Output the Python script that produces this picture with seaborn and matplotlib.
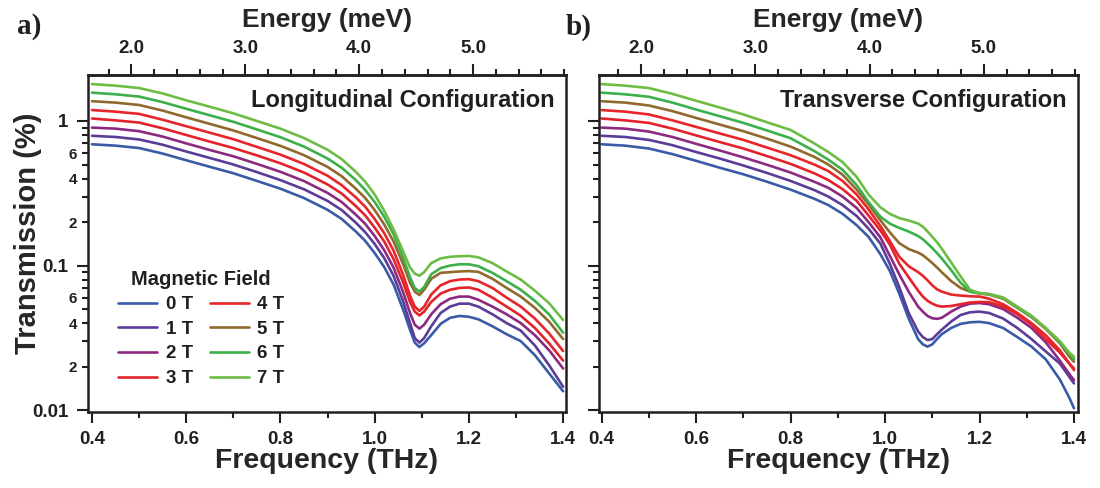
import numpy as np
import pandas as pd
import matplotlib
matplotlib.use("Agg")
import matplotlib.pyplot as plt
import seaborn as sns
from matplotlib.ticker import FixedLocator, FuncFormatter, NullFormatter

# ---------------- data ----------------
fields = ["0 T", "1 T", "2 T", "3 T", "4 T", "5 T", "6 T", "7 T"]
colors = ["#3a5ba8", "#5b3c98", "#8c2a82", "#e3222b", "#e8262a", "#91692c", "#3cb04a", "#6dbd45"]

# Longitudinal configuration (panel a)
freq_a = [0.40, 0.45, 0.50, 0.55, 0.60, 0.65, 0.70, 0.75, 0.80, 0.85, 0.90,
          0.93, 0.96, 0.98, 1.00,
          1.02, 1.04, 1.06, 1.075, 1.085, 1.095, 1.105, 1.12, 1.14, 1.16, 1.18, 1.20, 1.22,
          1.25, 1.28, 1.31, 1.34, 1.37, 1.40]
long_0T = [0.69, 0.675, 0.65, 0.595, 0.535, 0.482, 0.435, 0.385, 0.34, 0.293, 0.243,
           0.21, 0.172, 0.148, 0.122,
           0.098, 0.074, 0.050, 0.036, 0.0293, 0.0273, 0.029, 0.033, 0.0395, 0.0435, 0.0448, 0.0442, 0.0425,
           0.038, 0.0335, 0.030, 0.024, 0.018, 0.0135]
long_1T = [0.79, 0.775, 0.745, 0.685, 0.615, 0.555, 0.50, 0.443, 0.39, 0.337, 0.28,
           0.242, 0.198, 0.17, 0.141,
           0.113, 0.085, 0.057, 0.040, 0.0315, 0.0293, 0.0315, 0.038, 0.047, 0.052, 0.0545, 0.0545, 0.052,
           0.046, 0.040, 0.0355, 0.028, 0.0205, 0.0145]
long_2T = [0.90, 0.885, 0.85, 0.78, 0.70, 0.63, 0.57, 0.505, 0.445, 0.384, 0.318,
           0.275, 0.225, 0.194, 0.16,
           0.128, 0.097, 0.066, 0.047, 0.039, 0.0366, 0.039, 0.046, 0.054, 0.059, 0.061, 0.061, 0.058,
           0.052, 0.046, 0.040, 0.033, 0.026, 0.0194]
long_3T = [1.04, 1.01, 0.975, 0.89, 0.80, 0.72, 0.65, 0.578, 0.51, 0.44, 0.364,
           0.315, 0.258, 0.222, 0.183,
           0.147, 0.111, 0.077, 0.056, 0.048, 0.0452, 0.048, 0.056, 0.064, 0.068, 0.070, 0.0705, 0.068,
           0.060, 0.052, 0.045, 0.037, 0.029, 0.022]
long_4T = [1.19, 1.16, 1.12, 1.02, 0.92, 0.83, 0.748, 0.662, 0.585, 0.504, 0.418,
           0.36, 0.296, 0.255, 0.21,
           0.168, 0.127, 0.087, 0.062, 0.052, 0.0485, 0.052, 0.063, 0.073, 0.078, 0.080, 0.0805, 0.078,
           0.070, 0.060, 0.052, 0.043, 0.034, 0.0256]
long_5T = [1.37, 1.34, 1.29, 1.18, 1.06, 0.955, 0.86, 0.762, 0.673, 0.58, 0.481,
           0.415, 0.34, 0.293, 0.242,
           0.193, 0.147, 0.103, 0.076, 0.066, 0.0625, 0.068, 0.081, 0.089, 0.090, 0.091, 0.0915, 0.0905,
           0.081, 0.070, 0.061, 0.051, 0.041, 0.031]
long_6T = [1.57, 1.53, 1.475, 1.35, 1.215, 1.095, 0.987, 0.874, 0.772, 0.665, 0.55,
           0.475, 0.39, 0.333, 0.275,
           0.218, 0.165, 0.114, 0.083, 0.070, 0.066, 0.071, 0.087, 0.096, 0.100, 0.102, 0.102, 0.099,
           0.089, 0.078, 0.068, 0.057, 0.046, 0.0343]
long_7T = [1.80, 1.755, 1.69, 1.55, 1.39, 1.255, 1.13, 1.0, 0.885, 0.762, 0.632,
           0.545, 0.445, 0.38, 0.31,
           0.24, 0.178, 0.126, 0.097, 0.088, 0.085, 0.090, 0.104, 0.112, 0.115, 0.116, 0.1165, 0.114,
           0.104, 0.091, 0.080, 0.067, 0.055, 0.042]

# Transverse configuration (panel b)
freq_b = [0.40, 0.45, 0.50, 0.55, 0.60, 0.65, 0.70, 0.75, 0.80, 0.85,
          0.88, 0.91, 0.94, 0.965, 0.99,
          1.01, 1.03, 1.05, 1.07, 1.08, 1.09, 1.10, 1.11, 1.12, 1.14, 1.16, 1.18, 1.20, 1.22,
          1.25, 1.28, 1.31, 1.34, 1.37, 1.39, 1.40]
trans_0T = [0.69, 0.675, 0.645, 0.59, 0.53, 0.475, 0.428, 0.38, 0.335, 0.29,
            0.262, 0.228, 0.19, 0.158, 0.12,
            0.092, 0.064, 0.043, 0.031, 0.0285, 0.0275, 0.0285, 0.031, 0.0335, 0.037, 0.0395, 0.0405, 0.0408, 0.040,
            0.037, 0.032, 0.0275, 0.0225, 0.0163, 0.0122, 0.0103]
trans_1T = [0.79, 0.775, 0.74, 0.68, 0.61, 0.55, 0.492, 0.437, 0.385, 0.333,
            0.30, 0.262, 0.22, 0.18, 0.142,
            0.103, 0.071, 0.047, 0.035, 0.032, 0.0305, 0.031, 0.0335, 0.036, 0.041, 0.0455, 0.0475, 0.048, 0.047,
            0.043, 0.037, 0.031, 0.0255, 0.021, 0.017, 0.0153]
trans_2T = [0.90, 0.885, 0.845, 0.775, 0.695, 0.625, 0.56, 0.498, 0.44, 0.38,
            0.345, 0.30, 0.25, 0.20, 0.157,
            0.117, 0.087, 0.066, 0.052, 0.048, 0.0448, 0.0432, 0.0428, 0.0435, 0.048, 0.052, 0.0545, 0.055, 0.054,
            0.050, 0.0435, 0.037, 0.0295, 0.022, 0.0178, 0.0161]
trans_3T = [1.04, 1.01, 0.97, 0.885, 0.795, 0.715, 0.645, 0.572, 0.505, 0.435,
            0.39, 0.338, 0.28, 0.222, 0.175,
            0.14, 0.103, 0.083, 0.067, 0.061, 0.057, 0.0545, 0.0528, 0.052, 0.0525, 0.054, 0.0555, 0.056, 0.0558,
            0.052, 0.046, 0.039, 0.031, 0.025, 0.021, 0.0194]
trans_4T = [1.19, 1.16, 1.11, 1.01, 0.91, 0.82, 0.74, 0.655, 0.58, 0.50,
            0.45, 0.385, 0.31, 0.245, 0.188,
            0.148, 0.115, 0.099, 0.090, 0.085, 0.079, 0.073, 0.0685, 0.066, 0.063, 0.062, 0.0613, 0.061, 0.059,
            0.054, 0.047, 0.040, 0.033, 0.026, 0.021, 0.0189]
trans_5T = [1.37, 1.34, 1.28, 1.17, 1.05, 0.945, 0.85, 0.755, 0.665, 0.565,
            0.50, 0.425, 0.335, 0.265, 0.206,
            0.17, 0.143, 0.130, 0.123, 0.118, 0.111, 0.104, 0.097, 0.09, 0.078, 0.070, 0.066, 0.064, 0.063,
            0.059, 0.051, 0.044, 0.0365, 0.029, 0.0235, 0.0216]
trans_6T = [1.57, 1.53, 1.47, 1.34, 1.20, 1.08, 0.97, 0.86, 0.76, 0.62,
            0.54, 0.46, 0.36, 0.275, 0.218,
            0.195, 0.182, 0.172, 0.16, 0.152, 0.142, 0.132, 0.122, 0.112, 0.093, 0.076, 0.066, 0.0645, 0.0635,
            0.060, 0.0515, 0.0445, 0.037, 0.0295, 0.0245, 0.0225]
trans_7T = [1.80, 1.755, 1.69, 1.54, 1.38, 1.24, 1.11, 0.98, 0.867, 0.70,
            0.61, 0.52, 0.41, 0.31, 0.253,
            0.228, 0.213, 0.205, 0.195, 0.186, 0.172, 0.158, 0.145, 0.131, 0.105, 0.084, 0.068, 0.0645, 0.0635,
            0.060, 0.052, 0.045, 0.037, 0.030, 0.025, 0.0234]

long_series = [long_0T, long_1T, long_2T, long_3T, long_4T, long_5T, long_6T, long_7T]
trans_series = [trans_0T, trans_1T, trans_2T, trans_3T, trans_4T, trans_5T, trans_6T, trans_7T]

y_major = [0.01, 0.1, 1.0]
y_minor = [0.02, 0.03, 0.04, 0.05, 0.06, 0.07, 0.08, 0.09,
           0.2, 0.3, 0.4, 0.5, 0.6, 0.7, 0.8, 0.9]
x_major = [0.4, 0.6, 0.8, 1.0, 1.2, 1.4]
x_minor = [0.5, 0.7, 0.9, 1.1, 1.3]
e_major = [2.0, 3.0, 4.0, 5.0]
e_minor = [1.8, 2.2, 2.4, 2.6, 2.8, 3.2, 3.4, 3.6, 3.8, 4.2, 4.4, 4.6, 4.8, 5.2, 5.4, 5.6, 5.8]


def to_frame(freq, series):
    rows = []
    for name, vals in zip(fields, series):
        for f, v in zip(freq, vals):
            rows.append((name, f, v))
    return pd.DataFrame(rows, columns=["field", "freq", "T"])


df_a = to_frame(freq_a, long_series)
df_b = to_frame(freq_b, trans_series)

# ---------------- style ----------------
sns.set_style("ticks")
plt.rcParams["font.family"] = ["Liberation Sans", "DejaVu Sans"]
plt.rcParams["font.weight"] = "bold"
plt.rcParams["axes.labelweight"] = "bold"
plt.rcParams["axes.linewidth"] = 1.8
plt.rcParams["axes.edgecolor"] = "#231f20"
plt.rcParams["text.color"] = "#231f20"
plt.rcParams["xtick.color"] = "#231f20"
plt.rcParams["ytick.color"] = "#231f20"

fig = plt.figure(figsize=(11, 4.88), dpi=100)
ax_a = fig.add_axes([0.080, 0.1557, 0.4345, 0.6906])
ax_b = fig.add_axes([0.5445, 0.1557, 0.4355, 0.6906])

THZ_TO_MEV = 4.13567


def minor_fmt(v, pos):
    d = int(round(v / 10 ** np.floor(np.log10(v) + 1e-9)))
    return str(d) if d in (2, 4, 6) else ""


def major_fmt(v, pos):
    return {0.01: "0.01", 0.1: "0.1", 1.0: "1"}.get(round(v, 4), "")


for ax, df, xlim, title, show_y in [
    (ax_a, df_a, (0.3915, 1.406), "Longitudinal Configuration", True),
    (ax_b, df_b, (0.3943, 1.4085), "Transverse Configuration", False),
]:
    sns.lineplot(data=df, x="freq", y="T", hue="field", palette=colors, ax=ax,
                 linewidth=1.9, sort=False, estimator=None, legend=show_y)
    for ln in ax.get_lines():
        ln.set_solid_joinstyle("round")
    ax.set_yscale("log")
    ax.set_xlim(*xlim)
    ax.set_ylim(0.0097, 2.08)
    for s in ax.spines.values():
        s.set_visible(True)
        s.set_linewidth(1.8)

    ax.xaxis.set_major_locator(FixedLocator(x_major))
    ax.xaxis.set_minor_locator(FixedLocator(x_minor))
    ax.xaxis.set_major_formatter(FuncFormatter(lambda v, p: f"{v:.1f}"))
    ax.yaxis.set_major_locator(FixedLocator(y_major))
    ax.yaxis.set_minor_locator(FixedLocator(y_minor))
    ax.tick_params(axis="both", which="major", direction="out", length=8, width=1.5,
                   labelsize=13.5, top=False, right=False, pad=6)
    ax.tick_params(axis="both", which="minor", direction="out", length=4.5, width=1.5,
                   labelsize=11, top=False, right=False)
    if show_y:
        ax.yaxis.set_major_formatter(FuncFormatter(major_fmt))
        ax.yaxis.set_minor_formatter(FuncFormatter(minor_fmt))
        ax.set_ylabel("Transmission (%)", fontsize=21)
        ax.yaxis.set_label_coords(-0.097, 0.53)
    else:
        ax.yaxis.set_major_formatter(NullFormatter())
        ax.yaxis.set_minor_formatter(NullFormatter())
        ax.set_ylabel("")
    ax.set_xlabel("Frequency (THz)", fontsize=20.5, labelpad=0)

    sec = ax.secondary_xaxis("top", functions=(lambda f: f * THZ_TO_MEV, lambda e: e / THZ_TO_MEV))
    sec.xaxis.set_major_locator(FixedLocator(e_major))
    sec.xaxis.set_minor_locator(FixedLocator(e_minor))
    sec.xaxis.set_major_formatter(FuncFormatter(lambda v, p: f"{v:.1f}"))
    sec.tick_params(axis="x", which="major", direction="out", length=8, width=1.5, labelsize=13.5, pad=5)
    sec.tick_params(axis="x", which="minor", direction="out", length=4.5, width=1.5)
    sec.spines["top"].set_linewidth(1.8)
    sec.set_xlabel("Energy (meV)", fontsize=19, labelpad=9)

    ax.text(0.977, 0.958, title, transform=ax.transAxes, ha="right", va="top",
            fontsize=17, fontweight="bold")

# legend in panel a
handles, labels = ax_a.get_legend_handles_labels()
leg = ax_a.legend(handles, labels, title="Magnetic Field", ncol=2, loc="lower left",
                  bbox_to_anchor=(0.035, 0.035), frameon=False,
                  prop={"weight": "bold", "size": 13.5},
                  title_fontproperties={"weight": "bold", "size": 14.5},
                  handlelength=2.1, handletextpad=0.45, columnspacing=0.9, labelspacing=0.4,
                  borderpad=0.2)
for line in leg.get_lines():
    line.set_linewidth(1.9)

fig.text(0.015, 0.945, "a)", fontsize=21, fontweight="bold", va="center",
         family=["Liberation Serif", "DejaVu Serif"])
fig.text(0.514, 0.945, "b)", fontsize=21, fontweight="bold", va="center",
         family=["Liberation Serif", "DejaVu Serif"])

fig.savefig("out.png", dpi=100)
